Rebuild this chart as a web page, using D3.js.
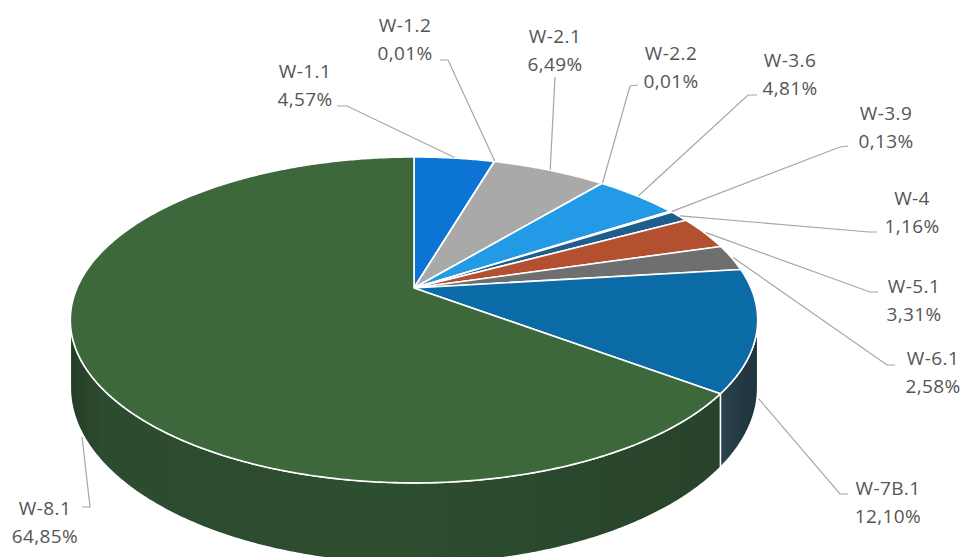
<!DOCTYPE html>
<html>
<head>
<meta charset="utf-8">
<script src="https://cdn.jsdelivr.net/npm/d3@7"></script>
<style>
  html, body { margin: 0; padding: 0; background: #ffffff; }
  svg { display: block; }
</style>
</head>
<body>
<svg id="chart" width="964" height="557"></svg>
<script>
// Share of each waste code, in percent (clockwise from 12 o'clock)
const categories = ["W-1.1", "W-1.2", "W-2.1", "W-2.2", "W-3.6", "W-3.9", "W-4", "W-5.1", "W-6.1", "W-7B.1", "W-8.1"];
const shares = [4.57, 0.01, 6.49, 0.01, 4.81, 0.13, 1.16, 3.31, 2.58, 12.10, 64.85];

// Fill colours of the top face and the darker outer wall
const topColors = ["#0b74d4", "#4a8fd0", "#a9a9a9", "#4a9fdc", "#229ae6", "#1f5f8c", "#1e5d8e", "#b3502f", "#6f6f6f", "#0b6ba6", "#3c683c"];
const sideColors = ["#08457d", "#2c5a80", "#656565", "#2c6088", "#145c8a", "#133a55", "#123856", "#6b301c", "#434343", "#243b45", "#2b4a2d"];

// Label boxes: centre x, first baseline, attachment point and elbow of the leader
const labelLayout = [
  { x: 305, y: 78,  ax: 337, ay: 106, ex: 347, ey: 106 },
  { x: 405, y: 32,  ax: 440, ay: 60,  ex: 448, ey: 60 },
  { x: 555, y: 43,  ax: 555, ay: 77,  ex: 555, ey: 77 },
  { x: 671, y: 60,  ax: 638, ay: 85,  ex: 630, ey: 86 },
  { x: 790, y: 67,  ax: 757, ay: 95,  ex: 748, ey: 95 },
  { x: 886, y: 120, ax: 848, ay: 146, ex: 840, ey: 147 },
  { x: 912, y: 205, ax: 877, ay: 232, ex: 869, ey: 232 },
  { x: 914, y: 293, ax: 878, ay: 292, ex: 870, ey: 292 },
  { x: 933, y: 365, ax: 895, ay: 365, ex: 887, ey: 365 },
  { x: 888, y: 495, ax: 848, ay: 494, ex: 840, ey: 494 },
  { x: 45,  y: 515, ax: 82,  ay: 507, ex: 90,  ey: 507 }
];

const data = categories.map((c, i) => ({ name: c, value: shares[i], i }));

// Tilted disc seen in perspective
const CX = 414, CY = 288, R = 337, S = 156.7, K = 0.196, DEPTH = 65;
function project(theta, r, drop) {
  const u = Math.sin(theta) * r, v = -Math.cos(theta) * r;
  const w = 1 - K * v;
  return [CX + R * u / w, CY + (S * v + (drop || 0)) / w];
}

const pct = d3.formatLocale({ decimal: ",", thousands: " ", grouping: [3], currency: ["", ""] }).format(".2f");

const pie = d3.pie().sort(null).value(d => d.value).startAngle(0).endAngle(2 * Math.PI);
const arcs = pie(data);

const svg = d3.select("#chart");
const defs = svg.append("defs");

// Shading across the front wall
const g8 = defs.append("linearGradient").attr("id", "wall-green")
  .attr("gradientUnits", "userSpaceOnUse").attr("x1", 70).attr("x2", 720).attr("y1", 0).attr("y2", 0);
[[0, "#243d25"], [0.05, "#2d4b2e"], [0.5, "#2e4e30"], [1, "#27432b"]].forEach(s =>
  g8.append("stop").attr("offset", s[0]).attr("stop-color", s[1]));
const g7 = defs.append("linearGradient").attr("id", "wall-blue")
  .attr("gradientUnits", "userSpaceOnUse").attr("x1", 720).attr("x2", 760).attr("y1", 0).attr("y2", 0);
[[0, "#2a434d"], [1, "#1e323a"]].forEach(s =>
  g7.append("stop").attr("offset", s[0]).attr("stop-color", s[1]));

function rimPoints(a0, a1, drop) {
  const n = Math.max(2, Math.ceil(Math.abs(a1 - a0) / (Math.PI / 360)));
  const pts = [];
  for (let j = 0; j <= n; j++) pts.push(project(a0 + (a1 - a0) * j / n, 1, drop));
  return pts;
}

// Visible part of the outer wall lies between the two silhouette angles
const visA = Math.PI - Math.acos(K), visB = Math.PI + Math.acos(K);
const walls = svg.append("g");
arcs.forEach(a => {
  const a0 = Math.max(a.startAngle, visA), a1 = Math.min(a.endAngle, visB);
  if (a1 <= a0) return;
  const top = rimPoints(a0, a1, 0);
  const bottom = rimPoints(a0, a1, DEPTH).reverse();
  const fill = a.data.i === 10 ? "url(#wall-green)" : a.data.i === 9 ? "url(#wall-blue)" : sideColors[a.data.i];
  walls.append("path")
    .attr("d", d3.line()(top.concat(bottom)) + "Z")
    .attr("fill", fill)
    .attr("stroke", "#ffffff").attr("stroke-width", 1.5).attr("stroke-linejoin", "round");
});

// Top face slices
const faces = svg.append("g");
arcs.forEach(a => {
  const pts = [project(0, 0, 0)].concat(rimPoints(a.startAngle, a.endAngle, 0));
  faces.append("path")
    .attr("d", d3.line()(pts) + "Z")
    .attr("fill", topColors[a.data.i])
    .attr("stroke", "#ffffff").attr("stroke-width", 1.6).attr("stroke-linejoin", "round");
});

// Leader lines
const leaders = svg.append("g").attr("fill", "none").attr("stroke", "#a6a6a6").attr("stroke-width", 1.2);
arcs.forEach(a => {
  const mid = (a.startAngle + a.endAngle) / 2;
  const front = mid > Math.PI / 2 && mid < 3 * Math.PI / 2;
  const anchor = project(mid, 1.005, front ? DEPTH : 0);
  const L = labelLayout[a.data.i];
  leaders.append("path").attr("d", d3.line()([[L.ax, L.ay], [L.ex, L.ey], anchor]));
});

// Data labels
const labels = svg.append("g")
  .attr("font-family", "'Open Sans', 'Noto Sans', sans-serif")
  .attr("font-size", 19).attr("fill", "#555555").attr("text-anchor", "middle")
  .attr("letter-spacing", 0.4);
arcs.forEach(a => {
  const L = labelLayout[a.data.i];
  const t = labels.append("text").attr("x", L.x).attr("y", L.y);
  t.append("tspan").attr("x", L.x).attr("y", L.y).text(a.data.name);
  t.append("tspan").attr("x", L.x).attr("y", L.y + 28).text(pct(a.data.value) + "%");
});
</script>
</body>
</html>
